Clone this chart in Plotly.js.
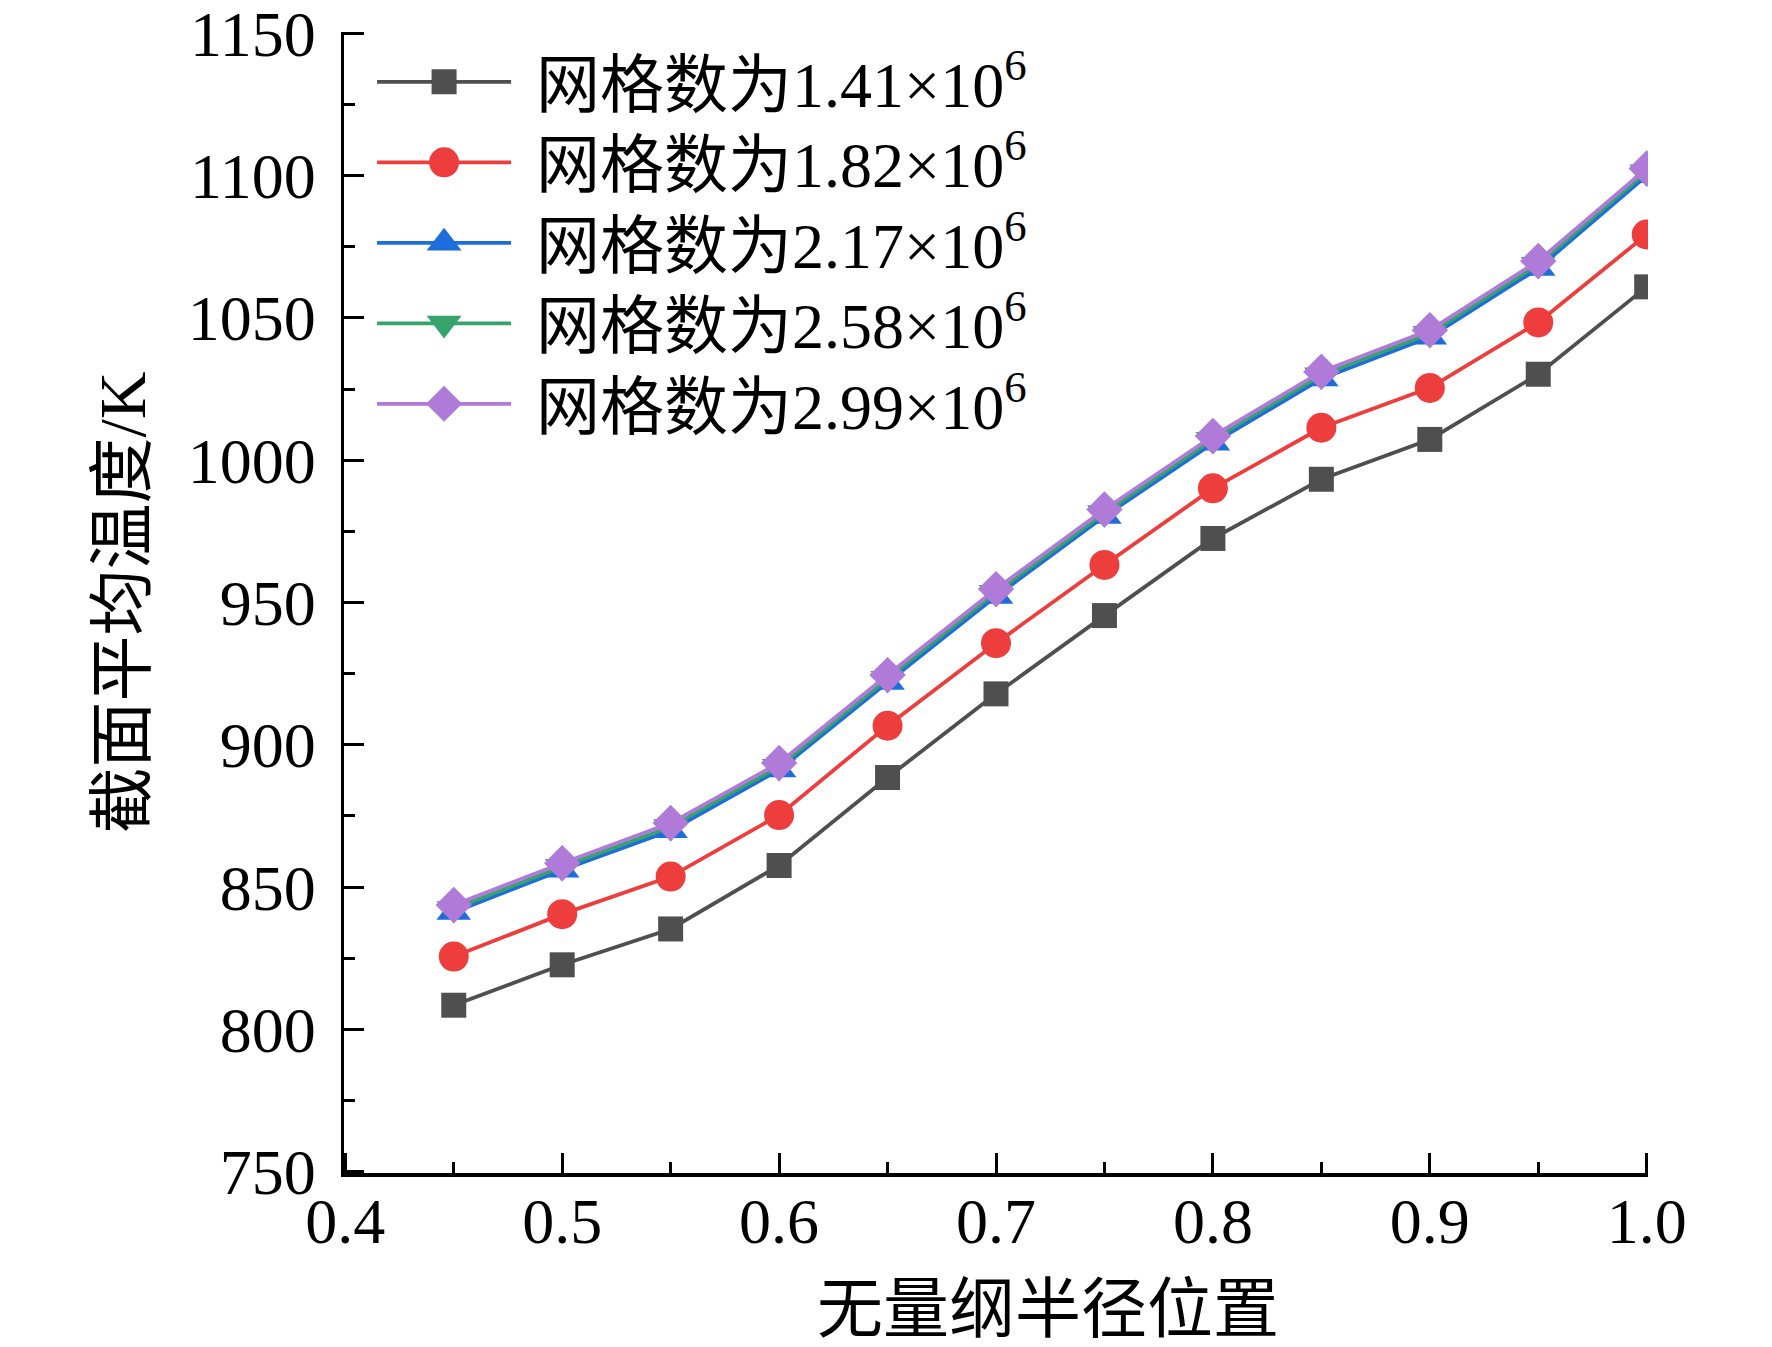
<!DOCTYPE html>
<html lang="zh">
<head>
  <meta charset="UTF-8">
  <title>截面平均温度</title>
  <script src="https://cdn.plot.ly/plotly-3.0.1.min.js" charset="utf-8"></script>
  <style>
    body { margin: 0; background: #fff; }
  </style>
</head>
<body>
  <div id="chart" style="width:1772px;height:1347px;"></div>
  <script>
    // dimensionless radius positions
    var radius = [0.45, 0.5, 0.55, 0.6, 0.65, 0.7, 0.75, 0.8, 0.85, 0.9, 0.95, 1.0];

    // section average temperature (K) for each mesh size
    var mesh141 = [808.5, 822.7, 835.3, 857.6, 888.5, 917.9, 945.4, 972.5, 993.3, 1007.3, 1030.2, 1060.9];
    var mesh182 = [825.6, 840.5, 853.7, 875.3, 906.7, 935.7, 963.2, 990.1, 1011.4, 1025.4, 1048.4, 1079.3];
    var mesh217 = [841.2, 856.0, 869.9, 891.2, 922.0, 952.2, 980.3, 1006.0, 1028.6, 1043.3, 1067.4, 1100.0];
    var mesh258 = [842.4, 857.2, 871.2, 892.4, 923.3, 953.5, 981.5, 1007.3, 1029.9, 1044.5, 1068.8, 1101.3];
    var mesh299 = [843.7, 858.4, 872.5, 893.6, 924.5, 954.7, 982.7, 1008.5, 1031.1, 1045.7, 1070.0, 1102.5];

    var names = [
      '网格数为1.41×10<sup>6</sup>',
      '网格数为1.82×10<sup>6</sup>',
      '网格数为2.17×10<sup>6</sup>',
      '网格数为2.58×10<sup>6</sup>',
      '网格数为2.99×10<sup>6</sup>'
    ];
    var series = [mesh141, mesh182, mesh217, mesh258, mesh299];
    var colors = ['#4f4f4f', '#ee3d3d', '#1d6ddb', '#36a46a', '#b07ad9'];
    var symbols = ['square', 'circle', 'triangle-up', 'triangle-down', 'diamond'];
    var sizes = [25, 30, 30, 30, 28];
    // width the legend key markers should have (same look as in the plot)
    var keyWidths = [25, 30, 35, 35, 36];

    var FONT = '"Times New Roman", "Liberation Serif", "Noto Sans CJK SC", serif';

    var data = [];
    for (var i = 0; i < series.length; i++) {
      data.push({
        x: radius,
        y: series[i],
        name: names[i],
        type: 'scatter',
        mode: 'lines+markers',
        line: {color: colors[i], width: 3.8},
        marker: {symbol: symbols[i], size: sizes[i], color: colors[i], line: {width: 0}}
      });
    }

    var axisCommon = {
      showgrid: false,
      zeroline: false,
      showline: true,
      linecolor: '#000',
      linewidth: 3.5,
      ticks: 'inside',
      ticklen: 20,
      tickwidth: 3,
      tickcolor: '#000',
      ticklabeloverflow: 'allow',
      tickfont: {family: FONT, size: 64, color: '#000'}
    };

    var layout = {
      width: 1772,
      height: 1347,
      margin: {l: 344, r: 124, t: 32, b: 174},
      paper_bgcolor: '#fff',
      plot_bgcolor: '#fff',
      font: {family: FONT, color: '#000'},
      showlegend: true,
      legend: {
        x: 0.0246, y: 0.9985, xanchor: 'left', yanchor: 'top',
        bgcolor: 'rgba(0,0,0,0)', borderwidth: 0,
        font: {family: FONT, size: 64, color: '#000'},
        itemwidth: 150,
        tracegroupgap: 0
      },
      xaxis: Object.assign({}, axisCommon, {
        // a hair wider than 0.4-1.0 so the end ticks are not clipped away
        range: [0.3994, 1.0006],
        tick0: 0.4, dtick: 0.1,
        tickformat: '.1f',
        ticklabelstandoff: -10,
        minor: {dtick: 0.05, ticks: 'inside', ticklen: 11, tickwidth: 3, tickcolor: '#000'}
      }),
      yaxis: Object.assign({}, axisCommon, {
        range: [749.55, 1150.45],
        tick0: 750, dtick: 50,
        ticklabelstandoff: 12,
        minor: {dtick: 25, ticks: 'inside', ticklen: 11, tickwidth: 3, tickcolor: '#000'},
        title: {text: '截面平均温度/K', font: {family: FONT, size: 66, color: '#000'}, standoff: 21}
      }),
      annotations: [{
        text: '无量纲半径位置',
        xref: 'paper', yref: 'paper',
        x: 0.5 + 52 / 1303, y: -136 / 1139,
        xanchor: 'center', yanchor: 'middle',
        showarrow: false,
        font: {family: FONT, size: 66, color: '#000'}
      }]
    };

    Plotly.newPlot('chart', data, layout, {displayModeBar: false, staticPlot: true}).then(function () {
      // make the legend key look like the original: long line, full-size marker, tighter rows
      var rows = document.querySelectorAll('.legend .traces');
      var y0 = null;
      rows.forEach(function (g, i) {
        var m = /translate\(\s*([-\d.]+)[ ,]+([-\d.]+)/.exec(g.getAttribute('transform') || '');
        var ty = m ? parseFloat(m[2]) : 0;
        if (y0 === null) y0 = ty;
        g.setAttribute('transform', 'translate(0,' + (y0 + i * 80.5) + ')');
        g.querySelectorAll('path.js-line').forEach(function (p) {
          p.setAttribute('d', 'M1,0h134');
        });
        g.querySelectorAll('.legendpoints path').forEach(function (p) {
          var w = p.getBBox().width || 16;
          var k = keyWidths[i] / w;
          p.setAttribute('transform', 'translate(68,0) scale(' + k + ')');
        });
      });
    });
  </script>
</body>
</html>
